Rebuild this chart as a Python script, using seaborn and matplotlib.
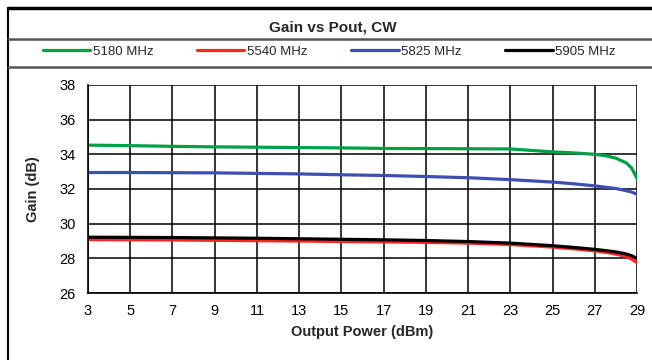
import numpy as np
import pandas as pd
import seaborn as sns
import matplotlib.pyplot as plt
from matplotlib.lines import Line2D

# Output power (dBm) sample points
pout = [3, 5, 7, 9, 11, 13, 15, 17, 19, 21, 23, 25, 26, 27, 27.5, 28, 28.5, 28.75, 29]

gain_5180 = [34.53, 34.50, 34.46, 34.43, 34.41, 34.39, 34.37, 34.34, 34.33, 34.32, 34.31,
             34.14, 34.08, 34.00, 33.92, 33.78, 33.50, 33.20, 32.60]
gain_5540 = [29.08, 29.07, 29.06, 29.04, 29.02, 29.00, 28.97, 28.95, 28.92, 28.88, 28.80,
             28.65, 28.55, 28.43, 28.35, 28.25, 28.10, 27.95, 27.75]
gain_5825 = [32.95, 32.95, 32.94, 32.93, 32.90, 32.87, 32.82, 32.78, 32.72, 32.65, 32.54,
             32.40, 32.30, 32.18, 32.10, 32.03, 31.90, 31.82, 31.70]
gain_5905 = [29.22, 29.21, 29.20, 29.18, 29.16, 29.13, 29.10, 29.07, 29.03, 28.97, 28.88,
             28.73, 28.63, 28.52, 28.45, 28.37, 28.25, 28.15, 28.00]

series_names = ["5180 MHz", "5540 MHz", "5825 MHz", "5905 MHz"]
series_colors = ["#00a046", "#ff2424", "#3f4fb0", "#000000"]
x_ticks = list(range(3, 30, 2))
y_ticks = list(range(26, 39, 2))

df = pd.concat([
    pd.DataFrame({"pout": pout, "gain": g, "freq": name})
    for g, name in zip([gain_5180, gain_5540, gain_5825, gain_5905], series_names)
])

sns.set_style("white")
plt.rcParams["font.family"] = ["Liberation Sans", "DejaVu Sans"]

fig = plt.figure(figsize=(6.52, 3.6), dpi=100)
ax = fig.add_axes([0.135, 0.186, 0.842, 0.578])

sns.lineplot(data=df, x="pout", y="gain", hue="freq", hue_order=series_names,
             palette=series_colors, linewidth=2.3, ax=ax, legend=False, sort=True)

ax.set_xlim(3, 29)
ax.set_ylim(26, 38)
ax.set_xticks(x_ticks)
ax.set_yticks(y_ticks)
ax.grid(True, color="black", linewidth=1.1)
ax.set_axisbelow(True)
for s in ["top", "right"]:
    ax.spines[s].set_visible(False)
for s in ["left", "bottom"]:
    ax.spines[s].set_color("black")
    ax.spines[s].set_linewidth(1.2)
ax.tick_params(direction="inout", length=6, width=1.1, labelsize=10.5, colors="black")
ax.tick_params(axis="x", pad=5)
ax.tick_params(axis="y", pad=6)
ax.set_xlabel("Output Power (dBm)", fontsize=10.5, fontweight="bold", labelpad=5)
ax.set_ylabel("Gain (dB)", fontsize=10.5, fontweight="bold", labelpad=14)

# Outer frame and header separators
fig.add_artist(Line2D([0.012, 0.012], [0.0, 0.978], transform=fig.transFigure, color="black", lw=1.5))
fig.add_artist(Line2D([0.012, 1.0], [0.978, 0.978], transform=fig.transFigure, color="black", lw=2.5))
fig.add_artist(Line2D([0.012, 1.0], [0.893, 0.893], transform=fig.transFigure, color="#555555", lw=1.8))
fig.add_artist(Line2D([0.012, 1.0], [0.815, 0.815], transform=fig.transFigure, color="#555555", lw=1.8))

fig.text(0.51, 0.925, "Gain vs Pout, CW", ha="center", va="center", fontsize=11, fontweight="bold")

handles = [Line2D([0], [0], color=c, lw=2.3) for c in series_colors]
fig.legend(handles, series_names, loc="center", bbox_to_anchor=(0.505, 0.856), ncol=4, frameon=False,
           fontsize=9.5, handlelength=3.6, handletextpad=0.2, columnspacing=3.3)

fig.savefig("out.png", dpi=100)
